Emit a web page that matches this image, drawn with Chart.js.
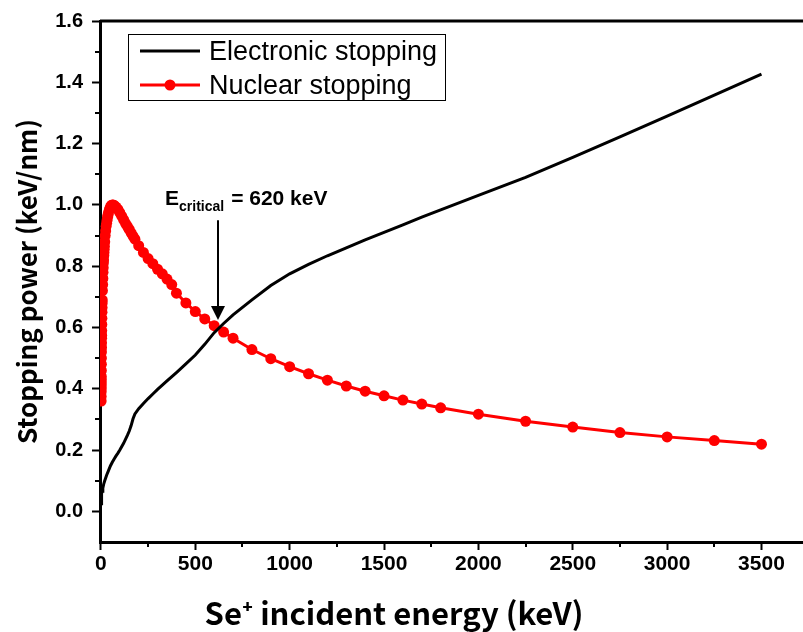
<!DOCTYPE html>
<html>
<head>
<meta charset="utf-8">
<script src="https://cdn.jsdelivr.net/npm/chart.js"></script>
<style>
  body { margin: 0; background: #fff; }
  canvas { display: block; }
</style>
</head>
<body>
<canvas id="myChart" width="803" height="632"></canvas>
<script>
// energies (keV) for the electronic stopping curve
const energyElec = [1.1, 2, 3, 5, 7, 10, 15, 20, 30, 40, 50, 60, 70, 80, 90, 100, 120, 140, 150, 160, 170, 180, 200, 225, 250, 275, 300, 350, 400, 450, 500, 550, 600, 650, 700, 800, 900, 1000, 1100, 1200, 1300, 1400, 1500, 1600, 1700, 1800, 2000, 2250, 2500, 2750, 3000, 3250, 3500];
const electronic = [0.025, 0.035, 0.045, 0.058, 0.066, 0.076, 0.09, 0.1, 0.118, 0.133, 0.148, 0.16, 0.171, 0.181, 0.19, 0.2, 0.222, 0.248, 0.262, 0.28, 0.302, 0.318, 0.335, 0.352, 0.368, 0.383, 0.398, 0.426, 0.453, 0.481, 0.51, 0.545, 0.583, 0.613, 0.641, 0.69, 0.737, 0.775, 0.806, 0.834, 0.86, 0.886, 0.91, 0.935, 0.96, 0.984, 1.031, 1.09, 1.155, 1.222, 1.29, 1.358, 1.427];

// energies (keV) for the nuclear stopping curve
const energyNucl = [1.1, 1.2, 1.3, 1.4, 1.5, 1.6, 1.7, 1.8, 2, 2.25, 2.5, 2.75, 3, 3.25, 3.5, 3.75, 4, 4.5, 5, 5.5, 6, 6.5, 7, 8, 9, 10, 11, 12, 13, 14, 15, 16, 17, 18, 20, 22.5, 25, 27.5, 30, 32.5, 35, 37.5, 40, 45, 50, 55, 60, 65, 70, 80, 90, 100, 110, 120, 130, 140, 150, 160, 170, 180, 200, 225, 250, 275, 300, 325, 350, 375, 400, 450, 500, 550, 600, 650, 700, 800, 900, 1000, 1100, 1200, 1300, 1400, 1500, 1600, 1700, 1800, 2000, 2250, 2500, 2750, 3000, 3250, 3500];
const nuclear = [0.36, 0.375, 0.39, 0.4, 0.41, 0.42, 0.43, 0.44, 0.46, 0.48, 0.5, 0.52, 0.535, 0.55, 0.565, 0.575, 0.59, 0.61, 0.63, 0.65, 0.665, 0.68, 0.69, 0.72, 0.74, 0.76, 0.78, 0.795, 0.81, 0.82, 0.835, 0.845, 0.855, 0.865, 0.88, 0.9, 0.915, 0.93, 0.94, 0.95, 0.96, 0.967, 0.975, 0.985, 0.993, 0.998, 1.0, 1.0, 0.998, 0.993, 0.985, 0.975, 0.963, 0.952, 0.94, 0.93, 0.92, 0.909, 0.898, 0.888, 0.867, 0.845, 0.825, 0.808, 0.79, 0.775, 0.758, 0.74, 0.712, 0.68, 0.652, 0.628, 0.606, 0.585, 0.565, 0.528, 0.498, 0.472, 0.449, 0.428, 0.409, 0.392, 0.377, 0.363, 0.35, 0.338, 0.317, 0.294, 0.275, 0.257, 0.243, 0.231, 0.219];

const seriesNames = ['Electronic stopping', 'Nuclear stopping'];
const xTicks = [0, 500, 1000, 1500, 2000, 2500, 3000, 3500];
const yTicks = [0, 0.2, 0.4, 0.6, 0.8, 1.0, 1.2, 1.4, 1.6];
const xMinorTicks = [250, 750, 1250, 1750, 2250, 2750, 3250];
const yMinorTicks = [0.1, 0.3, 0.5, 0.7, 0.9, 1.1, 1.3, 1.5];
const eCritical = 620;

const toPoints = (xs, ys) => xs.map((x, i) => ({ x: x, y: ys[i] }));

// minor ticks, top frame, legend box, x title and the E_critical arrow
const extras = {
  id: 'extras',
  afterDraw(chart) {
    const ctx = chart.ctx;
    const area = chart.chartArea;
    const xs = chart.scales.x;
    const ys = chart.scales.y;
    ctx.save();
    ctx.strokeStyle = '#000';

    // top frame line
    ctx.lineWidth = 3;
    ctx.beginPath();
    ctx.moveTo(area.left, area.top);
    ctx.lineTo(area.right, area.top);
    ctx.stroke();

    // minor ticks
    ctx.lineWidth = 2;
    xMinorTicks.forEach(v => {
      const px = Math.round(xs.getPixelForValue(v));
      ctx.beginPath();
      ctx.moveTo(px, area.bottom);
      ctx.lineTo(px, area.bottom + 5);
      ctx.stroke();
    });
    yMinorTicks.forEach(v => {
      const py = Math.round(ys.getPixelForValue(v));
      ctx.beginPath();
      ctx.moveTo(area.left, py);
      ctx.lineTo(area.left - 5, py);
      ctx.stroke();
    });

    // legend
    const lx = area.left + 28, ly = area.top + 13;
    ctx.fillStyle = '#fff';
    ctx.fillRect(lx, ly, 317, 66);
    ctx.lineWidth = 1;
    ctx.strokeRect(lx + 0.5, ly + 0.5, 317, 66);
    ctx.lineWidth = 3;
    ctx.strokeStyle = '#000';
    ctx.beginPath();
    ctx.moveTo(lx + 12, ly + 17);
    ctx.lineTo(lx + 72, ly + 17);
    ctx.stroke();
    ctx.strokeStyle = '#ff0000';
    ctx.beginPath();
    ctx.moveTo(lx + 12, ly + 51);
    ctx.lineTo(lx + 72, ly + 51);
    ctx.stroke();
    ctx.fillStyle = '#ff0000';
    ctx.beginPath();
    ctx.arc(lx + 42, ly + 51, 5.5, 0, Math.PI * 2);
    ctx.fill();
    ctx.fillStyle = '#000';
    ctx.font = '27px "Liberation Sans", Arial, sans-serif';
    ctx.textBaseline = 'alphabetic';
    ctx.fillText(seriesNames[0], lx + 81, ly + 26);
    ctx.fillText(seriesNames[1], lx + 81, ly + 60);

    // E_critical annotation
    const ax = Math.round(xs.getPixelForValue(eCritical));
    const yTop = ys.getPixelForValue(0.95);
    const yTip = ys.getPixelForValue(0.624);
    ctx.strokeStyle = '#000';
    ctx.lineWidth = 2;
    ctx.beginPath();
    ctx.moveTo(ax, yTop);
    ctx.lineTo(ax, yTip - 12);
    ctx.stroke();
    ctx.fillStyle = '#000';
    ctx.beginPath();
    ctx.moveTo(ax - 7, yTip - 14);
    ctx.lineTo(ax + 7, yTip - 14);
    ctx.lineTo(ax, yTip);
    ctx.closePath();
    ctx.fill();

    const base = ys.getPixelForValue(1.0);
    let tx = ax - 53;
    ctx.font = 'bold 21px "Liberation Sans", Arial, sans-serif';
    ctx.fillText('E', tx, base);
    tx += ctx.measureText('E').width;
    ctx.font = 'bold 14px "Liberation Sans", Arial, sans-serif';
    ctx.fillText('critical', tx, base + 6);
    tx += ctx.measureText('critical').width + 7;
    ctx.font = 'bold 21px "Liberation Sans", Arial, sans-serif';
    ctx.fillText('= 620 keV', tx, base);

    // x axis title
    ctx.font = 'bold 31px "Noto Sans CJK JP", "Noto Sans", sans-serif';
    ctx.textAlign = 'center';
    ctx.fillText('Se\u207A incident energy (keV)', 394, 625);
    ctx.restore();
  }
};

const ctx = document.getElementById('myChart').getContext('2d');
const myChart = new Chart(ctx, {
  type: 'line',
  data: {
    datasets: [
      {
        label: seriesNames[0],
        data: toPoints(energyElec, electronic),
        borderColor: '#000',
        borderWidth: 3,
        pointRadius: 0,
        fill: false,
        tension: 0,
        order: 1
      },
      {
        label: seriesNames[1],
        data: toPoints(energyNucl, nuclear),
        borderColor: '#ff0000',
        backgroundColor: '#ff0000',
        borderWidth: 3,
        pointRadius: 5.5,
        pointBorderWidth: 0,
        pointBackgroundColor: '#ff0000',
        fill: false,
        tension: 0,
        order: 2
      }
    ]
  },
  options: {
    responsive: false,
    animation: false,
    layout: { autoPadding: false, padding: { top: 19, right: 0, left: 0, bottom: 0 } },
    plugins: {
      legend: { display: false },
      tooltip: { enabled: false }
    },
    scales: {
      x: {
        type: 'linear',
        min: -5,
        max: 3720,
        afterBuildTicks: s => { s.ticks = xTicks.map(v => ({ value: v })); },
        afterFit: s => { s.height = 90; },
        border: { display: true, color: '#000', width: 3 },
        grid: { drawOnChartArea: false, drawTicks: true, tickLength: 8, tickWidth: 2, tickColor: '#000' },
        ticks: {
          padding: 2,
          color: '#000',
          maxRotation: 0,
          autoSkip: false,
          callback: v => String(v),
          font: { family: '"Liberation Sans Narrow", "Liberation Sans", Arial, sans-serif', weight: 'bold', size: 21 }
        },
        title: { display: false }
      },
      y: {
        min: -0.1,
        max: 1.6,
        afterBuildTicks: s => { s.ticks = yTicks.map(v => ({ value: v })); },
        afterFit: s => { s.width = 100; },
        border: { display: true, color: '#000', width: 3 },
        grid: { drawOnChartArea: false, drawTicks: true, tickLength: 8, tickWidth: 2, tickColor: '#000' },
        ticks: {
          padding: 9,
          color: '#000',
          autoSkip: false,
          callback: v => v.toFixed(1),
          font: { family: '"Liberation Sans", Arial, sans-serif', weight: 'bold', size: 20 }
        },
        title: {
          display: true,
          text: 'Stopping power (keV/nm)',
          color: '#000',
          padding: { top: 12, bottom: 0 },
          font: { family: '"Noto Sans CJK JP", "Noto Sans", sans-serif', weight: 'bold', size: 26 }
        }
      }
    }
  },
  plugins: [extras]
});
</script>
</body>
</html>
